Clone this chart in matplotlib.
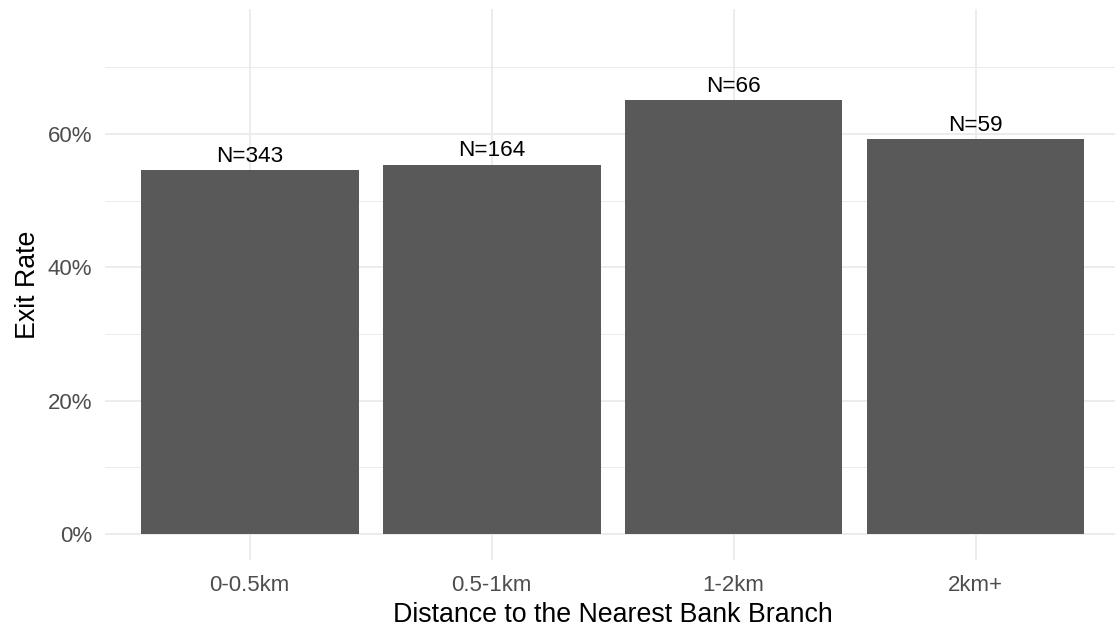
import matplotlib
matplotlib.use("Agg")
import matplotlib.pyplot as plt
from matplotlib.ticker import FixedLocator, FuncFormatter

categories = ["0-0.5km", "0.5-1km", "1-2km", "2km+"]
exit_rate = [54.6, 55.4, 65.1, 59.2]
counts = [343, 164, 66, 59]
y_ticks = [0, 20, 40, 60]
y_minor = [10, 30, 50, 70]

plt.rcParams['font.family'] = ['Liberation Sans', 'DejaVu Sans']

W, H = 1115, 628
fig = plt.figure(figsize=(W / 100, H / 100), dpi=100)
left, right, top, bottom = 104.5, 1120.7, 9, 560
ax = fig.add_axes([left / W, (H - bottom) / H, (right - left) / W, (bottom - top) / H])

x = list(range(len(categories)))
ax.bar(x, exit_rate, width=0.9, color="#595959", zorder=3)
for xi, v, n in zip(x, exit_rate, counts):
    ax.annotate(f"N={n}", (xi, v), xytext=(0, 2.5), textcoords="offset points",
                ha="center", va="bottom", fontsize=16.2, color="black", zorder=4)

ax.set_xlim(-0.6, 3.6)
ax.set_ylim(-3.9, 78.75)
ax.yaxis.set_major_locator(FixedLocator(y_ticks))
ax.yaxis.set_minor_locator(FixedLocator(y_minor))
ax.yaxis.set_major_formatter(FuncFormatter(lambda v, p: f"{v:.0f}%"))
ax.set_xticks(x)
ax.set_xticklabels(categories)

ax.grid(which="major", axis="both", color="#EBEBEB", linewidth=1.3, zorder=0)
ax.grid(which="minor", axis="y", color="#EBEBEB", linewidth=0.7, zorder=0)
for s in ax.spines.values():
    s.set_visible(False)
ax.tick_params(axis="both", which="both", length=0, labelsize=16, labelcolor="#4D4D4D")
ax.tick_params(axis="x", pad=11)
ax.tick_params(axis="y", pad=9)

ax.set_xlabel("Distance to the Nearest Bank Branch", fontsize=19.3, color="black", labelpad=4)
ax.set_ylabel("Exit Rate", fontsize=19.3, color="black", labelpad=5)

fig.savefig("out.png", dpi=100, facecolor="white")
